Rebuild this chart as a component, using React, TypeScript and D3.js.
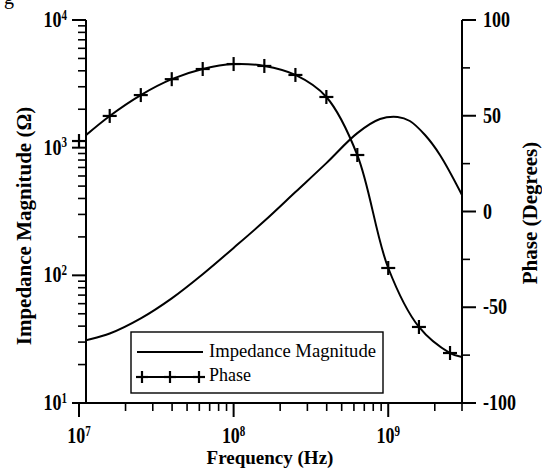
import { useEffect, useRef } from 'react';
import * as d3 from 'd3';

// Impedance magnitude (Ohm) vs frequency (Hz)
const magFreq = [1e7, 1.11e7, 1.58e7, 2.51e7, 3.98e7, 6.31e7, 1e8, 1.58e8, 2.51e8, 3.98e8, 6.31e8, 8.85e8, 1.15e9, 1.38e9, 1.73e9, 2.16e9, 3e9];
const magValues = [30, 31, 35, 46, 66, 102, 164, 266, 449, 757, 1300, 1675, 1740, 1618, 1256, 877, 426];

// Phase (degrees), markers every 0.2 decade, plus end point
const phaseFreq = [1e7, 1.58e7, 2.51e7, 3.98e7, 6.31e7, 1e8, 1.58e8, 2.51e8, 3.98e8, 6.31e8, 1e9, 1.58e9, 2.51e9, 3e9];
const phaseValues = [36.8, 49.9, 60.8, 69.1, 74.4, 77, 76, 71.3, 59.8, 29.5, -29.5, -60.3, -73.9, -76];
const phaseMarkerCount = 13;

// Axis ticks
const xMajor = [1e7, 1e8, 1e9];
const xMajorExp = ['7', '8', '9'];
const yMajor = [10, 100, 1000, 10000];
const yMajorExp = ['1', '2', '3', '4'];
const phaseMajor = [-100, -50, 0, 50, 100];
const phaseMinor = [-75, -25, 25, 75];

const legendLabels = ['Impedance Magnitude', 'Phase'];

const FONT = '"Liberation Serif", "Times New Roman", serif';

function App() {
    const ref = useRef<SVGSVGElement | null>(null);

    const draw = () => {
        const svg = d3.select(ref.current);
        svg.selectAll('*').remove();

        const left = 86, right = 462, top = 20, bottom = 403;

        const x = d3.scaleLog().domain([1e7, 3e9]).range([79, 462]);
        const yMag = d3.scaleLog().domain([10, 1e4]).range([bottom, top]);
        const yPh = d3.scaleLinear().domain([-100, 100]).range([bottom, top]);

        // clip for curves
        svg.append('defs').append('clipPath').attr('id', 'plotclip')
            .append('rect').attr('x', left).attr('y', 0).attr('width', right - left).attr('height', bottom);

        const axisColor = '#000';

        // bottom axis
        svg.append('line').attr('x1', 72).attr('x2', right).attr('y1', bottom).attr('y2', bottom)
            .attr('stroke', axisColor).attr('stroke-width', 2);
        const xMinor: number[] = [];
        [1e7, 1e8, 1e9].forEach(d => { for (let k = 2; k <= 9; k++) if (d * k <= 3e9) xMinor.push(d * k); });
        svg.append('g').selectAll('line').data(xMinor).enter().append('line')
            .attr('x1', d => x(d)).attr('x2', d => x(d)).attr('y1', bottom).attr('y2', bottom + 8)
            .attr('stroke', axisColor).attr('stroke-width', 1.6);
        svg.append('g').selectAll('line').data(xMajor).enter().append('line')
            .attr('x1', d => x(d)).attr('x2', d => x(d)).attr('y1', bottom).attr('y2', bottom + 14)
            .attr('stroke', axisColor).attr('stroke-width', 2);
        xMajor.forEach((d, i) => {
            const g = svg.append('g').attr('transform', `translate(${x(d)},443) scale(1,1.25)`);
            const t = g.append('text').attr('text-anchor', 'middle').attr('font-family', FONT)
                .attr('font-weight', 'bold').attr('font-size', 18).attr('fill', '#000');
            t.append('tspan').text('10');
            t.append('tspan').attr('font-size', 11).attr('dy', -6).text(xMajorExp[i]);
        });

        // left axis
        svg.append('line').attr('x1', left).attr('x2', left).attr('y1', top).attr('y2', bottom)
            .attr('stroke', axisColor).attr('stroke-width', 2);
        const yMinor: number[] = [];
        [10, 100, 1000].forEach(d => { for (let k = 2; k <= 9; k++) yMinor.push(d * k); });
        svg.append('g').selectAll('line').data(yMinor).enter().append('line')
            .attr('x1', left - 8).attr('x2', left).attr('y1', d => yMag(d)).attr('y2', d => yMag(d))
            .attr('stroke', axisColor).attr('stroke-width', 1.6);
        svg.append('g').selectAll('line').data(yMajor).enter().append('line')
            .attr('x1', left - 14).attr('x2', left).attr('y1', d => yMag(d)).attr('y2', d => yMag(d))
            .attr('stroke', axisColor).attr('stroke-width', 2);
        yMajor.forEach((d, i) => {
            const g = svg.append('g').attr('transform', `translate(67,${yMag(d) + 7}) scale(1,1.25)`);
            const t = g.append('text').attr('text-anchor', 'end').attr('font-family', FONT)
                .attr('font-weight', 'bold').attr('font-size', 18).attr('fill', '#000');
            t.append('tspan').text('10');
            t.append('tspan').attr('font-size', 11).attr('dy', -6).text(yMajorExp[i]);
        });

        // right axis
        svg.append('line').attr('x1', right).attr('x2', right).attr('y1', top).attr('y2', bottom)
            .attr('stroke', axisColor).attr('stroke-width', 2);
        svg.append('g').selectAll('line').data(phaseMinor).enter().append('line')
            .attr('x1', right).attr('x2', right + 8).attr('y1', d => yPh(d)).attr('y2', d => yPh(d))
            .attr('stroke', axisColor).attr('stroke-width', 1.6);
        svg.append('g').selectAll('line').data(phaseMajor).enter().append('line')
            .attr('x1', right).attr('x2', right + 14).attr('y1', d => yPh(d)).attr('y2', d => yPh(d))
            .attr('stroke', axisColor).attr('stroke-width', 2);
        phaseMajor.forEach(d => {
            svg.append('g').attr('transform', `translate(483,${yPh(d) + 7}) scale(1,1.25)`)
                .append('text').attr('font-family', FONT).attr('font-weight', 'bold')
                .attr('font-size', 18).attr('fill', '#000').text(String(d));
        });

        // axis titles
        svg.append('text').attr('x', 270).attr('y', 464).attr('text-anchor', 'middle')
            .attr('font-family', FONT).attr('font-weight', 'bold').attr('font-size', 19)
            .text('Frequency (Hz)');
        svg.append('text').attr('transform', 'translate(31,226) rotate(-90)').attr('text-anchor', 'middle')
            .attr('font-family', FONT).attr('font-weight', 'bold').attr('font-size', 21)
            .text('Impedance Magnitude (\u03A9)');
        svg.append('text').attr('transform', 'translate(537,213) rotate(-90)').attr('text-anchor', 'middle')
            .attr('font-family', FONT).attr('font-weight', 'bold').attr('font-size', 21)
            .text('Phase (Degrees)');

        // curves
        const magData = magFreq.map((f, i) => [f, magValues[i]] as [number, number]);
        const phData = phaseFreq.map((f, i) => [f, phaseValues[i]] as [number, number]);

        const magLine = d3.line<[number, number]>()
            .x(d => x(d[0])).y(d => yMag(d[1])).curve(d3.curveCatmullRom.alpha(0.5));
        const phLine = d3.line<[number, number]>()
            .x(d => x(d[0])).y(d => yPh(d[1])).curve(d3.curveCatmullRom.alpha(0.5));

        const plot = svg.append('g').attr('clip-path', 'url(#plotclip)');
        plot.append('path').attr('d', magLine(magData)).attr('fill', 'none')
            .attr('stroke', '#000').attr('stroke-width', 2);
        plot.append('path').attr('d', phLine(phData)).attr('fill', 'none')
            .attr('stroke', '#000').attr('stroke-width', 2);

        // phase markers
        const cross = (g: any, cx: number, cy: number, s: number) => {
            g.append('line').attr('x1', cx - s).attr('x2', cx + s).attr('y1', cy).attr('y2', cy)
                .attr('stroke', '#000').attr('stroke-width', 2.2);
            g.append('line').attr('x1', cx).attr('x2', cx).attr('y1', cy - s).attr('y2', cy + s)
                .attr('stroke', '#000').attr('stroke-width', 2.2);
        };
        const markers = svg.append('g');
        phData.slice(0, phaseMarkerCount).forEach(d => cross(markers, x(d[0]), yPh(d[1]), 7));

        // legend
        const lg = svg.append('g');
        lg.append('rect').attr('x', 131).attr('y', 332).attr('width', 252).attr('height', 61)
            .attr('fill', '#fff').attr('stroke', '#000').attr('stroke-width', 1.4);
        lg.append('line').attr('x1', 137).attr('x2', 203).attr('y1', 352).attr('y2', 352)
            .attr('stroke', '#000').attr('stroke-width', 2);
        lg.append('line').attr('x1', 137).attr('x2', 203).attr('y1', 377).attr('y2', 377)
            .attr('stroke', '#000').attr('stroke-width', 2);
        [142, 170, 199].forEach(cx => cross(lg, cx, 377, 6));
        lg.append('text').attr('x', 209).attr('y', 357).attr('font-family', FONT).attr('font-size', 18)
            .attr('textLength', 167).attr('lengthAdjust', 'spacingAndGlyphs').text(legendLabels[0]);
        lg.append('text').attr('x', 209).attr('y', 381).attr('font-family', FONT).attr('font-size', 18)
            .text(legendLabels[1]);

        // cut-off caption fragment at the very top
        svg.append('text').attr('x', 4).attr('y', 4).attr('font-family', FONT).attr('font-size', 20).text('g');
    };

    useEffect(() => draw(), []);

    return (
        <svg ref={ref} width={542} height={468}
            style={{ position: 'absolute', left: 0, top: 0, background: '#fff' }} />
    );
}

export default App;
